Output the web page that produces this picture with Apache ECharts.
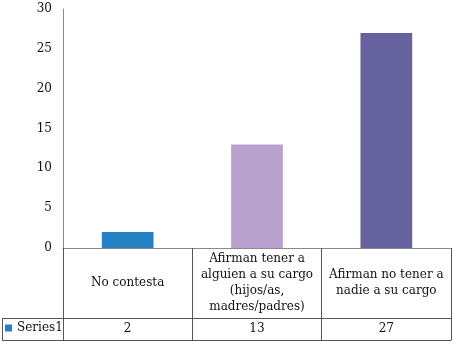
<!DOCTYPE html>
<html>
<head>
<meta charset="utf-8">
<style>
  html, body { margin: 0; padding: 0; background: #fff; }
  #chart { width: 454px; height: 344px; }
</style>
<script src="https://cdn.jsdelivr.net/npm/echarts@6/dist/echarts.min.js"></script>
</head>
<body>
<div id="chart"></div>
<script>
var categories = [
  "No contesta",
  "Afirman tener a\nalguien a su cargo\n(hijos/as,\nmadres/padres)",
  "Afirman no tener a\nnadie a su cargo"
];
var values = [2, 13, 27];
var barColors = ["#2581c4", "#b9a1cd", "#66629f"];
var seriesName = "Series1";

var font = "DejaVu Serif";
var textColor = "#111";
var lineColor = "#8a8a8a";

var chart = echarts.init(document.getElementById("chart"));
chart.setOption({
  animation: false,
  textStyle: { fontFamily: font },
  grid: { left: 63, right: 3, top: 9, bottom: 96 },
  legend: {
    left: 5,
    top: 322,
    itemWidth: 7,
    itemHeight: 7,
    itemGap: 4,
    padding: 0,
    textStyle: { fontFamily: font, fontSize: 12, color: textColor },
    data: [{ name: seriesName, icon: "rect" }]
  },
  xAxis: [
    {
      type: "category",
      data: categories,
      position: "bottom",
      axisLine: { lineStyle: { color: lineColor } },
      axisTick: { show: true, interval: 0, length: 92, lineStyle: { color: "#555" } },
      axisLabel: {
        interval: 0,
        margin: 35,
        verticalAlign: "middle",
        fontFamily: font,
        fontSize: 12,
        lineHeight: 16,
        color: textColor
      }
    },
    {
      type: "category",
      data: values.map(String),
      position: "bottom",
      offset: 70,
      axisLine: { lineStyle: { color: "#555" } },
      axisTick: { show: false },
      axisLabel: {
        interval: 0,
        margin: 11,
        verticalAlign: "middle",
        fontFamily: font,
        fontSize: 12,
        color: textColor
      }
    },
    {
      type: "category",
      data: values.map(String),
      position: "bottom",
      offset: 92,
      axisLine: { lineStyle: { color: "#555" } },
      axisTick: { show: false },
      axisLabel: { show: false }
    }
  ],
  yAxis: {
    type: "value",
    min: 0,
    max: 30,
    interval: 5,
    axisLine: { show: true, lineStyle: { color: lineColor } },
    axisTick: { show: false },
    splitLine: { show: false },
    axisLabel: { margin: 11, fontFamily: font, fontSize: 12, color: textColor }
  },
  graphic: [
    { type: "line", shape: { x1: 2, y1: 318.5, x2: 63, y2: 318.5 }, style: { stroke: "#555", lineWidth: 1 } },
    { type: "line", shape: { x1: 2, y1: 340.5, x2: 63, y2: 340.5 }, style: { stroke: "#555", lineWidth: 1 } },
    { type: "line", shape: { x1: 2.5, y1: 318, x2: 2.5, y2: 341 }, style: { stroke: "#555", lineWidth: 1 } }
  ],
  series: [
    {
      name: seriesName,
      type: "bar",
      barWidth: "40%",
      itemStyle: { color: barColors[0] },
      data: values.map(function (v, i) {
        return { value: v, itemStyle: { color: barColors[i] } };
      })
    }
  ]
});
</script>
</body>
</html>
